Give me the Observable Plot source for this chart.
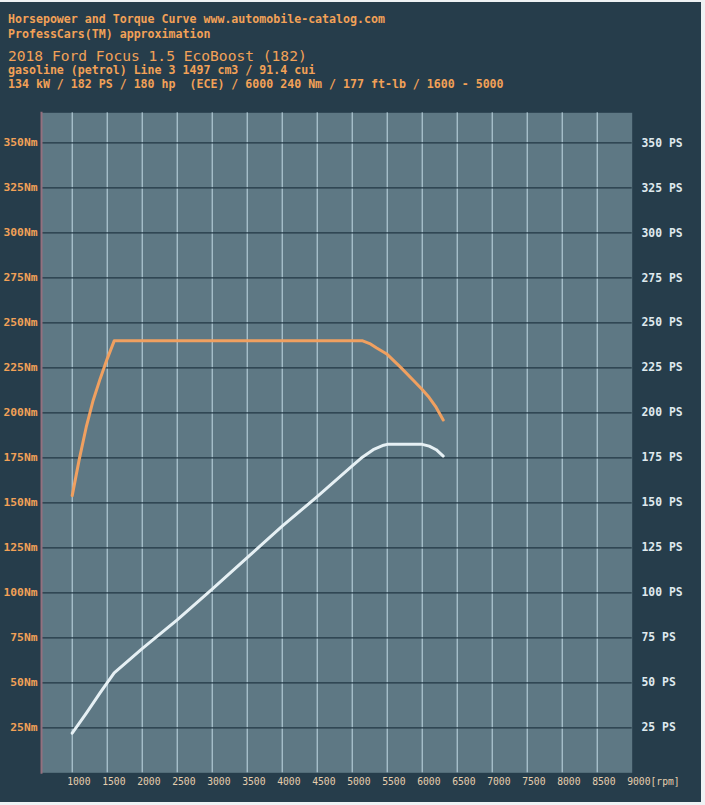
<!DOCTYPE html>
<html>
<head>
<meta charset="utf-8">
<script src="https://cdn.jsdelivr.net/npm/d3@7"></script>
<script src="https://cdn.jsdelivr.net/npm/@observablehq/plot@0.6"></script>
<style>
  html, body { margin: 0; padding: 0; background: #eef2f4; }
  #card { position: absolute; left: 0; top: 2px; width: 701px; height: 800px; background: #263d4b; overflow: hidden; }
  .hl { position: absolute; left: 8px; white-space: pre; color: #f2a157; font-family: "DejaVu Sans Mono", monospace; }
  .small { font-size: 11.6px; font-weight: bold; line-height: 14px; }
  .title { font-size: 14.6px; font-weight: normal; line-height: 18px; }
  #plot { position: absolute; left: 0; top: 98px; }
</style>
</head>
<body>
<div id="card">
  <div class="hl small" style="top:10px">Horsepower and Torque Curve www.automobile-catalog.com</div>
  <div class="hl small" style="top:24.5px">ProfessCars(TM) approximation</div>
  <div class="hl title" style="top:45px">2018 Ford Focus 1.5 EcoBoost (182)</div>
  <div class="hl small" style="top:60.5px">gasoline (petrol) Line 3 1497 cm3 / 91.4 cui</div>
  <div class="hl small" style="top:74.5px">134 kW / 182 PS / 180 hp  (ECE) / 6000 240 Nm / 177 ft-lb / 1600 - 5000</div>
  <div id="plot"></div>
</div>
<script>
// ---- data ----
const torqueRpm = [1000, 1100, 1200, 1300, 1400, 1500, 1600, 5150, 5250, 5350, 5500, 5700, 5900, 6000, 6100, 6200, 6300];
const torqueNm  = [154, 174, 192, 207, 219, 230, 240, 240, 238.5, 236, 232.5, 225, 217, 213, 208.5, 203, 196];

const powerRpm = [1000, 1200, 1400, 1600, 2000, 2500, 3000, 3500, 4000, 4500, 5000, 5150, 5300, 5450, 5500, 6000, 6100, 6200, 6300];
const powerPs  = [22, 33, 44.5, 55.5, 69, 85, 102, 119.5, 137, 153.5, 170.5, 175.5, 179.5, 182, 182.5, 182.5, 181.5, 179.5, 176];

const yTicks = [25, 50, 75, 100, 125, 150, 175, 200, 225, 250, 275, 300, 325, 350];
const xTicks = [1000, 1500, 2000, 2500, 3000, 3500, 4000, 4500, 5000, 5500, 6000, 6500, 7000, 7500, 8000, 8500, 9000];
const xGrid  = [1000, 1500, 2000, 2500, 3000, 3500, 4000, 4500, 5000, 5500, 6000, 6500, 7000, 7500, 8000, 8500];

const torque = torqueRpm.map((r, i) => ({rpm: r, v: torqueNm[i]}));
const power  = powerRpm.map((r, i) => ({rpm: r, v: powerPs[i]}));

const mono = "DejaVu Sans Mono, monospace";

const chart = Plot.plot({
  width: 701,
  height: 702,
  marginLeft: 41,
  marginRight: 69.3,
  marginTop: 12.3,
  marginBottom: 29.7,
  x: {domain: [561.4, 9000], axis: null},
  y: {domain: [0, 366.7], axis: null},
  style: {background: "transparent", overflow: "visible", fontFamily: mono},
  marks: [
    Plot.frame({fill: "#5e7884", stroke: null}),
    Plot.ruleX(xGrid, {stroke: "#c4dce6", strokeWidth: 1}),
    Plot.ruleY(yTicks, {stroke: "#223744", strokeWidth: 1.2}),
    Plot.frame({anchor: "left", stroke: "#94707e", strokeWidth: 2}),
    Plot.line(torque, {x: "rpm", y: "v", stroke: "#f0a060", strokeWidth: 3, strokeLinejoin: "round", curve: "linear"}),
    Plot.line(power, {x: "rpm", y: "v", stroke: "#e6f0f4", strokeWidth: 3, strokeLinejoin: "round", curve: "linear"}),
    Plot.text(yTicks, {y: d => d, text: d => d + "Nm", frameAnchor: "left", dx: -4, textAnchor: "end",
      fill: "#f2a157", fontSize: 11.3, fontWeight: "bold", fontFamily: mono}),
    Plot.text(yTicks, {y: d => d, text: d => d + " PS", frameAnchor: "right", dx: 9.3, textAnchor: "start",
      fill: "#dfe9ee", fontSize: 11.4, fontWeight: "bold", fontFamily: mono}),
    Plot.text(xTicks, {x: d => d, text: d => d === 9000 ? "9000[rpm]" : String(d), frameAnchor: "bottom", dy: 12, dx: -5,
      textAnchor: "start", fill: "#e6cfae", fontSize: 9.7, fontFamily: mono})
  ]
});
document.getElementById("plot").appendChild(chart);
</script>
</body>
</html>
